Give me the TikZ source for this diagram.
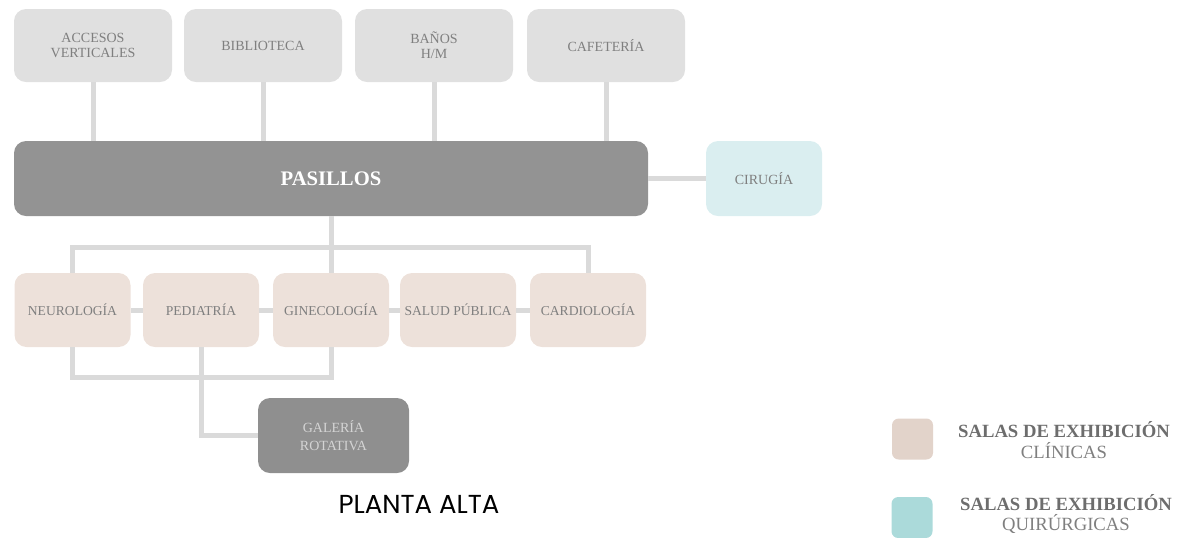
\documentclass[tikz,border=0pt]{standalone}
\usepackage{fontspec}
\setmainfont{Liberation Serif}
\newfontfamily\titlefont{Poppins}
\usepackage{xcolor}
\usepackage{tikz}
\usetikzlibrary{positioning, calc}
\definecolor{servicebg}{HTML}{E0E0E0}
\definecolor{hallbg}{HTML}{939393}
\definecolor{gallerybg}{HTML}{8F8F8F}
\definecolor{clinicbg}{HTML}{EDE1DA}
\definecolor{surgerybg}{HTML}{DAEEF0}
\definecolor{clinicsw}{HTML}{E2D3CA}
\definecolor{surgerysw}{HTML}{ABDADA}
\definecolor{linkgray}{HTML}{DADADA}
\definecolor{labelgray}{HTML}{7F7F7F}
\definecolor{legendgray}{HTML}{6D6D6D}
\definecolor{gallerytext}{HTML}{D4D4D4}
\tikzset{
  service/.style={rectangle, rounded corners=9pt, fill=servicebg, text=labelgray, minimum width=118.5pt, minimum height=54.75pt, inner sep=0pt, align=center, font=\fontsize{10.5}{11.5}\selectfont},
  hall/.style={rectangle, rounded corners=9pt, fill=hallbg, text=white, minimum width=475.5pt, minimum height=56.25pt, inner sep=0pt, align=center, font=\fontsize{15.5}{17}\selectfont\bfseries},
  surgery/.style={rectangle, rounded corners=9pt, fill=surgerybg, text=labelgray, minimum width=87pt, minimum height=56.25pt, inner sep=0pt, align=center, font=\fontsize{10.5}{11.5}\selectfont},
  clinic/.style={rectangle, rounded corners=9pt, fill=clinicbg, text=labelgray, minimum width=87pt, minimum height=55.5pt, inner sep=0pt, align=center, font=\fontsize{10.2}{11.5}\selectfont},
  gallery/.style={rectangle, rounded corners=9pt, fill=gallerybg, text=gallerytext, minimum width=113.25pt, minimum height=56.25pt, inner sep=0pt, align=center, font=\fontsize{10.5}{13.5}\selectfont},
  swatch/.style={rectangle, rounded corners=5pt, minimum size=30.75pt, inner sep=0pt},
  legendtext/.style={align=center, text=labelgray, inner sep=0pt, font=\fontsize{14}{15.5}\selectfont},
  link/.style={draw=linkgray, line width=3.75pt},
}

\begin{document}
\begin{tikzpicture}[x=0.75pt, y=-0.75pt]
\useasboundingbox (0,0) rectangle (1187,537);
\node[service] (acc) at (93,45.5) {ACCESOS\\VERTICALES};
\node[service] (bib) at (263,45.5) {BIBLIOTECA};
\node[service] (ban) at (434,45.5) {BAÑOS\\H/M};
\node[service] (caf) at (606,45.5) {CAFETERÍA};
\node[hall] (hall) at (331,178.5) {PASILLOS};
\node[surgery] (cir) at (764,178.5) {CIRUGÍA};
\node[clinic] (neu) at (72.5,310) {NEUROLOGÍA};
\node[clinic] (ped) at (201,310) {PEDIATRÍA};
\node[clinic] (gin) at (331,310) {GINECOLOGÍA};
\node[clinic] (sal) at (458,310) {SALUD PÚBLICA};
\node[clinic] (car) at (588,310) {CARDIOLOGÍA};
\node[gallery] (gal) at (333.5,435.5) {GALERÍA\\ROTATIVA};
\node[font=\titlefont\fontsize{19.5}{21}\selectfont] (title) at (419,504) {PLANTA ALTA};
\node[swatch, fill=clinicsw] (legc) at (912.5,439) {};
\node[swatch, fill=surgerysw] (legq) at (912,517.5) {};
\node[legendtext] (legct) at (1064,440) {\textbf{\color{legendgray}SALAS DE EXHIBICIÓN}\\CLÍNICAS};
\node[legendtext] (legqt) at (1066,514) {\textbf{\color{legendgray}SALAS DE EXHIBICIÓN}\\QUIRÚRGICAS};
\coordinate (upbus) at (331,247);
\coordinate (lowbus) at (331,377);
\foreach \s in {acc,bib,ban,caf}
  \draw[link] (\s.south) -- (\s.south |- hall.north);
\draw[link] (hall.east) -- (cir.west);
\draw[link] (hall.south) -- (gin.north);
\draw[link] (neu.north) |- (upbus) -| (car.north);
\draw[link] (neu.east) -- (ped.west); \draw[link] (ped.east) -- (gin.west);
\draw[link] (gin.east) -- (sal.west); \draw[link] (sal.east) -- (car.west);
\draw[link] (neu.south) |- (lowbus) -- (gin.south);
\draw[link] (ped.south) |- (gal.west);
\end{tikzpicture}
\end{document}
